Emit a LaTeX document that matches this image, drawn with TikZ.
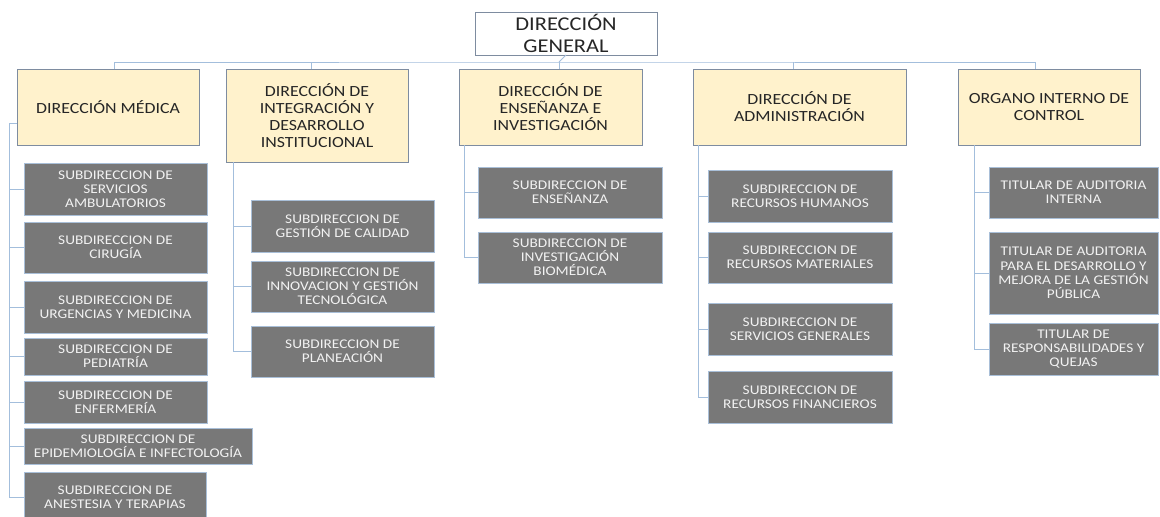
\documentclass[tikz,border=0pt]{standalone}
\usepackage{fontspec}
\newfontfamily\orgfont[FakeStretch=1.15]{Carlito}

\definecolor{tanfill}{HTML}{FFF2CC}
\definecolor{tanline}{HTML}{7E8CA0}
\definecolor{subfill}{HTML}{787878}
\definecolor{subline}{HTML}{A9BFD8}
\definecolor{subtext}{HTML}{F2F2F2}
\definecolor{link}{HTML}{A3BEDC}
\definecolor{ink}{HTML}{262626}

\tikzset{
  base/.style={rectangle, inner sep=0pt, outer sep=0pt, align=center},
  topbox/.style={base, draw=tanline, line width=0.8pt, fill=white, text=ink,
    font=\orgfont\fontsize{19.5}{21.6}\selectfont},
  dirbox/.style={base, draw=tanline, line width=0.8pt, fill=tanfill, text=ink,
    font=\orgfont\fontsize{15.5}{17}\selectfont},
  subbox/.style={base, draw=subline, line width=0.8pt, fill=subfill, text=subtext,
    font=\orgfont\fontsize{13.3}{14.2}\selectfont},
  conn/.style={draw=link, line width=0.9pt},
}

% box given by its corners: name, style, x1, y1, x2, y2, text
\newcommand\orgbox[7]{%
  \node[#2, minimum width={(#5-#3)*1pt}, minimum height={(#6-#4)*1pt}]
    (#1) at ({(#3+#5)/2},{(#4+#6)/2}) {#7};}

\begin{document}
\begin{tikzpicture}[x=1pt, y=-1pt]
\clip (0,0) rectangle (1160,517);
\fill[white] (0,0) rectangle (1160,517);

% head
\orgbox{dg}{topbox}{475}{12}{657}{55}{DIRECCIÓN\\GENERAL}

% directions
\orgbox{d1}{dirbox}{17}{69}{199}{145}{DIRECCIÓN MÉDICA}
\orgbox{d2}{dirbox}{226}{69}{408}{162}{DIRECCIÓN DE\\INTEGRACIÓN Y\\DESARROLLO\\INSTITUCIONAL}
\orgbox{d3}{dirbox}{459}{69}{642}{145}{DIRECCIÓN DE\\ENSEÑANZA E\\INVESTIGACIÓN}
\orgbox{d4}{dirbox}{693}{69}{906}{145}{DIRECCIÓN DE\\ADMINISTRACIÓN}
\orgbox{d5}{dirbox}{958}{69}{1140}{145}{ORGANO INTERNO DE\\CONTROL}

% medical area
\orgbox{s11}{subbox}{24}{163}{207}{215}{SUBDIRECCION DE\\SERVICIOS\\AMBULATORIOS}
\orgbox{s12}{subbox}{24}{222}{207}{273}{SUBDIRECCION DE\\CIRUGÍA}
\orgbox{s13}{subbox}{24}{281}{207}{333}{SUBDIRECCION DE\\URGENCIAS Y MEDICINA}
\orgbox{s14}{subbox}{24}{338}{207}{375}{SUBDIRECCION DE\\PEDIATRÍA}
\orgbox{s15}{subbox}{24}{381}{207}{423}{SUBDIRECCION DE\\ENFERMERÍA}
\orgbox{s16}{subbox}{24}{428}{252}{464}{SUBDIRECCION DE\\EPIDEMIOLOGÍA E INFECTOLOGÍA}
\orgbox{s17}{subbox}{24}{472}{206}{523}{SUBDIRECCION DE\\ANESTESIA Y TERAPIAS}

% integration area
\orgbox{s21}{subbox}{251}{200}{434}{252}{SUBDIRECCION DE\\GESTIÓN DE CALIDAD}
\orgbox{s22}{subbox}{251}{261}{434}{312}{SUBDIRECCION DE\\INNOVACION Y GESTIÓN\\TECNOLÓGICA}
\orgbox{s23}{subbox}{251}{326}{434}{377}{SUBDIRECCION DE\\PLANEACIÓN}

% teaching area
\orgbox{s31}{subbox}{478}{167}{662}{218}{SUBDIRECCION DE\\ENSEÑANZA}
\orgbox{s32}{subbox}{478}{232}{662}{283}{SUBDIRECCION DE\\INVESTIGACIÓN\\BIOMÉDICA}

% administration area
\orgbox{s41}{subbox}{708}{170}{892}{222}{SUBDIRECCION DE\\RECURSOS HUMANOS}
\orgbox{s42}{subbox}{708}{232}{892}{283}{SUBDIRECCION DE\\RECURSOS MATERIALES}
\orgbox{s43}{subbox}{708}{303}{892}{355}{SUBDIRECCION DE\\SERVICIOS GENERALES}
\orgbox{s44}{subbox}{708}{371}{892}{423}{SUBDIRECCION DE\\RECURSOS FINANCIEROS}

% internal control
\orgbox{s51}{subbox}{989}{167}{1158}{218}{TITULAR DE AUDITORIA\\INTERNA}
\orgbox{s52}{subbox}{989}{232}{1158}{314}{TITULAR DE AUDITORIA\\PARA EL DESARROLLO Y\\MEJORA DE LA GESTIÓN\\PÚBLICA}
\orgbox{s53}{subbox}{989}{323}{1158}{375}{TITULAR DE\\RESPONSABILIDADES Y\\QUEJAS}

% top bus
\coordinate (bus) at (559,62);
\draw[conn] (dg.south) -- (bus);
\draw[conn] ([xshift=6pt]d1.north) |- (bus) -| ([xshift=-14pt]d5.north);
\draw[conn] ([xshift=-6pt]d2.north) -- ([xshift=-6pt]d2.north |- bus);
\draw[conn] ([xshift=8.5pt]d3.north) -- ([xshift=8.5pt]d3.north |- bus);
\draw[conn] ([xshift=-6.5pt]d4.north) -- ([xshift=-6.5pt]d4.north |- bus);

% medical spine
\coordinate (v1) at (9,123);
\draw[conn] (d1.west |- v1) -- (v1) |- (s17.west);
\foreach \s in {s11,s12,s13,s14,s15,s16}
  \draw[conn] (\s.west) -- (\s.west -| v1);

% integration spine
\coordinate (v2) at ([xshift=7pt]d2.south west);
\draw[conn] (v2) |- (s23.west);
\foreach \s in {s21,s22}
  \draw[conn] (\s.west) -- (\s.west -| v2);

% teaching spine
\coordinate (v3) at ([xshift=5pt]d3.south west);
\draw[conn] (v3) |- (s32.west);
\draw[conn] (s31.west) -- (s31.west -| v3);

% administration spine
\coordinate (v4) at ([xshift=5pt]d4.south west);
\draw[conn] (v4) |- (s44.west);
\foreach \s in {s41,s42,s43}
  \draw[conn] (\s.west) -- (\s.west -| v4);

% control spine
\coordinate (v5) at ([xshift=16pt]d5.south west);
\draw[conn] (v5) |- (s53.west);
\foreach \s in {s51,s52}
  \draw[conn] (\s.west) -- (\s.west -| v5);
\end{tikzpicture}
\end{document}
